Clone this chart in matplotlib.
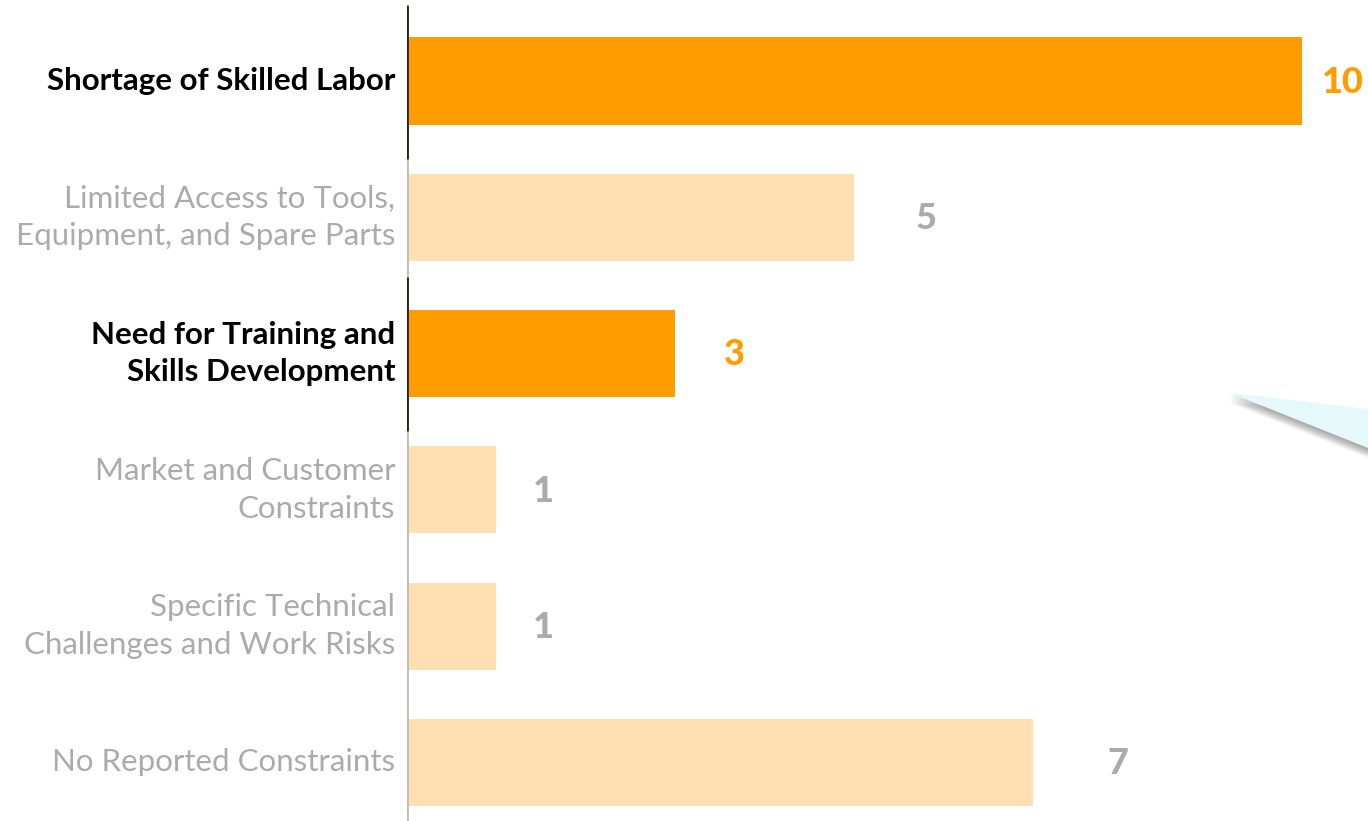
import matplotlib.pyplot as plt
from matplotlib.patches import Polygon
import matplotlib.patheffects as pe

categories = [
    "Shortage of Skilled Labor",
    "Limited Access to Tools,\nEquipment, and Spare Parts",
    "Need for Training and\nSkills Development",
    "Market and Customer\nConstraints",
    "Specific Technical\nChallenges and Work Risks",
    "No Reported Constraints",
]
counts = [10, 5, 3, 1, 1, 7]
highlight = [True, False, True, False, False, False]

ORANGE = "#FF9C00"
LIGHT = "#FDDFB2"
GREY_TXT = "#ABABAB"
DARK = "#2b1d17"

plt.rcParams["font.family"] = ["Lato", "DejaVu Sans"]

fig = plt.figure(figsize=(13.68, 8.21), dpi=100)
ax = fig.add_axes([407 / 1368, 0, 961 / 1368, 1])

y = list(range(len(categories)))
colors = [ORANGE if h else LIGHT for h in highlight]
ax.barh(y, counts, height=0.64, color=colors, edgecolor="none", zorder=2)

ax.set_xlim(0, 10.74)
ax.set_ylim(5.43, -0.595)
ax.axis("off")

# axis line: grey overall, dark beside the highlighted rows
ax.plot([0, 0], [5.43, -0.545], color="#BBBBBB", lw=2, zorder=3,
        solid_capstyle="butt")
for yi, h in zip(y, highlight):
    if h:
        ax.plot([0, 0], [yi - 0.56, yi + 0.57], color=DARK, lw=2, zorder=4,
                solid_capstyle="butt")

for yi, (cat, v, h) in enumerate(zip(categories, counts, highlight)):
    ax.text(-0.13, yi, cat, ha="right", va="center",
            fontsize=22.5, linespacing=1.42,
            color="black" if h else GREY_TXT,
            fontweight="bold" if h else "normal")
    lx = min(v * 1.07 + 0.45, 10.46)
    ax.text(lx, yi + 0.01, str(v), ha="center", va="center",
            fontsize=26, fontweight="black",
            color=ORANGE if h else GREY_TXT)

# tail of a callout bubble coming in from the right edge, soft drop shadow
shadow = [pe.SimplePatchShadow(offset=(0, -k), alpha=0.07,
                               shadow_rgbFace="#333333") for k in range(1, 8)]
tail = Polygon([(1230 / 1368, 1 - 393 / 821), (1.0, 1 - 409 / 821),
                (1.0, 1 - 448 / 821)], closed=True, transform=fig.transFigure,
               facecolor="#E5F8FA", edgecolor="none", zorder=5,
               path_effects=shadow + [pe.Normal()])
fig.patches.append(tail)

fig.savefig("out.png", dpi=100)
